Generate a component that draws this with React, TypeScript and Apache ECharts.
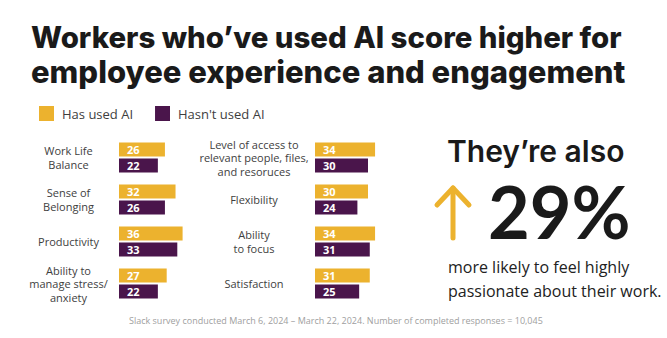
import React, { useEffect, useRef } from "react";
import * as echarts from "echarts";

const leftCategories = ["Work Life\nBalance", "Sense of\nBelonging", "Productivity", "Ability to\nmanage stress/\nanxiety"];
const leftUsed = [26, 32, 36, 27];
const leftNotUsed = [22, 26, 33, 22];

const rightCategories = ["Level of access to\nrelevant people, files,\nand resoruces", "Flexibility", "Ability\nto focus", "Satisfaction"];
const rightUsed = [34, 30, 34, 31];
const rightNotUsed = [30, 24, 31, 25];

const seriesNames = ["Has used AI", "Hasn't used AI"];
const titleLines = ["Workers who\u2019ve used AI score higher for", "employee experience and engagement"];
const calloutHead = "They\u2019re also";
const calloutValue = "29%";
const calloutBody = "more likely to feel highly\npassionate about their work.";
const footnote = "Slack survey conducted March 6, 2024 \u2013 March 22, 2024. Number of completed responses = 10,045";

const YELLOW = "#ECB22E";
const PURPLE = "#4A154B";
const FONT = "'Open Sans', 'Noto Sans', sans-serif";
const TITLE_FONT = "Inter, 'Noto Sans', sans-serif";

export default function App() {
  const ref = useRef<HTMLDivElement>(null);
  useEffect(() => {
    if (!ref.current) return;
    const chart = echarts.init(ref.current, null, { renderer: "svg" });
    const barLabel = {
      show: true,
      position: "insideLeft",
      distance: 8,
      color: "#fff",
      fontSize: 11,
      fontWeight: "bold",
      fontFamily: FONT,
    };
    const mkBar = (name: string, data: number[], color: string, idx: number) => ({
      type: "bar",
      name,
      data,
      xAxisIndex: idx,
      yAxisIndex: idx,
      barWidth: 14,
      barGap: "14%",
      itemStyle: { color },
      label: barLabel,
    });
    const yAxisBase = (data: string[], idx: number, margin: number) => ({
      type: "category",
      gridIndex: idx,
      data,
      inverse: true,
      axisLine: { show: false },
      axisTick: { show: false },
      axisLabel: {
        margin,
        align: "center",
        fontSize: 11,
        lineHeight: 13.5,
        color: "#3e3e3e",
        fontFamily: FONT,
      },
    });
    const xAxisBase = (idx: number) => ({
      type: "value",
      gridIndex: idx,
      min: 0,
      max: 60,
      show: false,
    });
    const titleRich = {
      fontFamily: TITLE_FONT,
      fontWeight: 800,
      lineHeight: 34,
      color: "#1a1a1a",
    };
    chart.setOption({
      animation: false,
      backgroundColor: "#fff",
      title: {
        text: `{a|${titleLines[0]}}\n{b|${titleLines[1]}}`,
        left: 31,
        top: 20,
        padding: 0,
        textStyle: {
          fontFamily: TITLE_FONT,
          fontSize: 29.5,
          fontWeight: 800,
          lineHeight: 34,
          color: "#1a1a1a",
          rich: {
            a: { ...titleRich, fontSize: 29.4 },
            b: { ...titleRich, fontSize: 31 },
          },
        },
      },
      legend: {
        data: seriesNames,
        left: 39,
        top: 106,
        padding: 0,
        icon: "rect",
        itemWidth: 15,
        itemHeight: 15,
        itemGap: 22,
        textStyle: { fontSize: 13, color: "#3e3e3e", fontFamily: FONT, padding: [0, 0, 0, 3] },
      },
      grid: [
        { left: 119, top: 136.5, width: 106, height: 168 },
        { left: 315, top: 136.5, width: 106, height: 168 },
      ],
      xAxis: [xAxisBase(0), xAxisBase(1)],
      yAxis: [yAxisBase(leftCategories, 0, 50.5), yAxisBase(rightCategories, 1, 61)],
      series: [
        mkBar(seriesNames[0], leftUsed, YELLOW, 0),
        mkBar(seriesNames[1], leftNotUsed, PURPLE, 0),
        mkBar(seriesNames[0], rightUsed, YELLOW, 1),
        mkBar(seriesNames[1], rightNotUsed, PURPLE, 1),
      ],
      graphic: [
        {
          type: "text",
          left: 447,
          top: 136,
          style: { text: calloutHead, fontSize: 30, lineHeight: 30, fontWeight: 600, fill: "#1a1a1a", fontFamily: TITLE_FONT },
        },
        {
          type: "text",
          left: 488,
          top: 175,
          style: { text: calloutValue, fontSize: 72, lineHeight: 56, fontWeight: "bold", fill: "#1a1a1a", fontFamily: "Lato, 'Open Sans', sans-serif" },
        },
        {
          type: "polyline",
          shape: { points: [[453, 238], [453, 188]] },
          style: { stroke: YELLOW, lineWidth: 5, lineCap: "round", fill: null },
        },
        {
          type: "polyline",
          shape: { points: [[437, 205], [453, 188], [469, 205]] },
          style: { stroke: YELLOW, lineWidth: 5, lineCap: "round", lineJoin: "round", fill: null },
        },
        {
          type: "text",
          left: 448,
          top: 255,
          style: { text: calloutBody, fontSize: 16, lineHeight: 24, fill: "#222", fontFamily: FONT },
        },
        {
          type: "text",
          left: 129,
          top: 316,
          style: { text: footnote, fontSize: 9, fill: "#a0a0a0", fontFamily: FONT },
        },
      ],
    });
    return () => chart.dispose();
  }, []);
  return (
    <div
      ref={ref}
      style={{ position: "fixed", left: 0, top: 0, width: 667, height: 338, background: "#fff" }}
    />
  );
}
